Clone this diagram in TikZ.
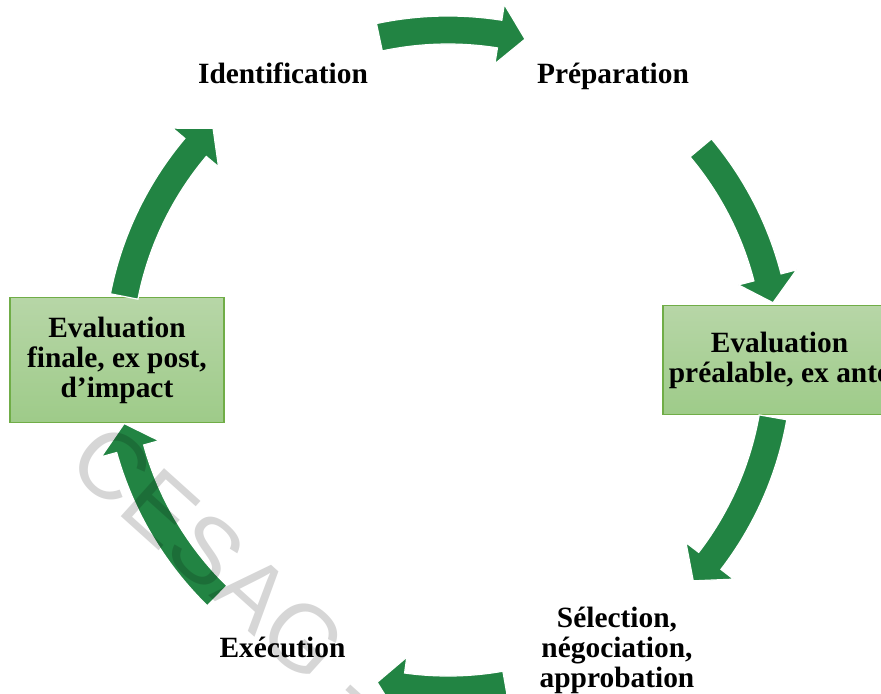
\documentclass[tikz,border=0pt]{standalone}
\usepackage{fontspec}
\setmainfont{Liberation Serif}
\newfontfamily\stampfont{Liberation Sans}

\definecolor{arrowgreen}{RGB}{34,132,67}
\definecolor{boxtop}{RGB}{183,214,167}
\definecolor{boxbottom}{RGB}{158,203,137}
\definecolor{boxedge}{RGB}{112,173,71}

\tikzset{
  stage/.style={font=\fontsize{14.7}{15}\selectfont\bfseries, align=center, inner sep=0pt},
  stagebox/.style={stage, draw=boxedge, line width=0.75pt, top color=boxtop, bottom color=boxbottom},
  cyclearrow/.style={fill=arrowgreen, draw=white, line width=0.6pt},
  stamp/.style={font=\stampfont\fontsize{47}{47}\selectfont, text=black, text opacity=0.16, inner sep=0pt}
}

% block arrow along the cycle, from angle #1 to angle #2
\newcommand{\cyclearc}[2]{%
  \pgfmathsetmacro{\headangle}{#2+4.5*sign(#1-#2)}%
  \path[cyclearrow] (#1:344) arc[start angle=#1, end angle=\headangle, radius=344]
    -- (\headangle:360) -- (#2:330) -- (\headangle:300) -- (\headangle:316)
    arc[start angle=\headangle, end angle=#1, radius=316] -- cycle;
}

\begin{document}
\begin{tikzpicture}[x=0.5pt, y=0.5pt]
\useasboundingbox (-448,-333) rectangle (433,360);

% the two evaluation boxes
\node[stagebox, minimum width=107pt, minimum height=62.5pt] (final) at (-331,0) {Evaluation\\finale, ex post,\\d'impact};
\node[stagebox, minimum width=116.5pt, minimum height=54.5pt] (exante) at (331.5,0) {Evaluation\\préalable, ex ante};

% arrows round the cycle
\cyclearc{168.9}{135.4}
\cyclearc{102}{76.5}
\cyclearc{40}{10}
\cyclearc{-10}{-42}
\cyclearc{-80}{-102.4}
\cyclearc{-134.4}{-168.9}

% the other stages
\node[stage, anchor=base] (ident) at (-165,277) {Identification};
\node[stage, anchor=base] (prep) at (165,277) {Préparation};
\node[stage] (select) at (169,-290) {Sélection,\\négociation,\\approbation};
\node[stage, anchor=base] (exec) at (-165.5,-297) {Exécution};

\node[stamp, rotate=-42, anchor=west] (cesag) at (-362,-82) {CESAG -};
\end{tikzpicture}
\end{document}
